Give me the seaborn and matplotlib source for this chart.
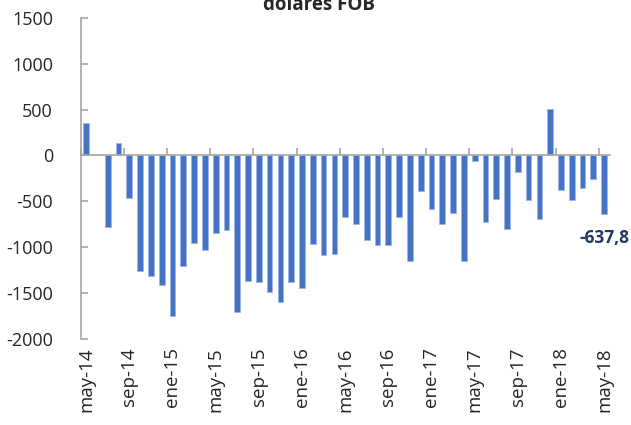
#!/usr/bin/env python
"""
Saldo de la balanza comercial mensual, millones de dolares FOB.
"""
import matplotlib

matplotlib.use("Agg")
import matplotlib.pyplot as plt
import pandas as pd
import seaborn as sns
from matplotlib.ticker import FixedLocator

months_es = ["ene", "feb", "mar", "abr", "may", "jun",
             "jul", "ago", "sep", "oct", "nov", "dic"]

# may-14 .. may-18
months = [f"{months_es[(4 + i) % 12]}-{14 + (4 + i) // 12}" for i in range(49)]

saldo = [
    350, 0, -780, 135, -460, -1257, -1312, -1417, -1745, -1203, -950, -1030,
    -848, -812, -1707, -1370, -1382, -1484, -1598, -1377, -1439, -967, -1080, -1069,
    -674, -743, -924, -971, -975, -674, -1152, -384, -578, -752, -630, -1148,
    -58, -724, -471, -800, -177, -482, -692, 511, -376, -482, -355, -253,
    -637.8,
]
last_label = "-637,8"

sns.set_theme(style="white")
plt.rcParams["font.family"] = ["Open Sans", "DejaVu Sans"]
plt.rcParams["axes.unicode_minus"] = False

data = pd.DataFrame({"mes": months, "saldo": saldo})

fig = plt.figure(figsize=(6.31, 4.25), dpi=100)
ax = fig.add_axes([0.128, 0.2024, 0.838, 0.7556])

sns.barplot(
    data=data,
    x="mes",
    y="saldo",
    color="#4472C4",
    saturation=1,
    width=0.53,
    edgecolor="#9db5e3",
    linewidth=0.5,
    ax=ax,
)

ax.set_xlim(-0.5, len(months) - 0.5)
ax.set_ylim(-2000, 1500)
ax.set_yticks(range(-2000, 1501, 500))
ax.set_xlabel("")
ax.set_ylabel("")

grey = "#a6a6a6"
for side in ["top", "right"]:
    ax.spines[side].set_visible(False)
ax.spines["left"].set_color(grey)
ax.spines["left"].set_linewidth(1.2)
ax.spines["bottom"].set_position(("data", 0))
ax.spines["bottom"].set_color(grey)
ax.spines["bottom"].set_linewidth(1.2)

# tick marks on the zero line, between categories every 4 months
ax.set_xticks([])
ax.xaxis.set_minor_locator(FixedLocator([i - 0.5 for i in range(0, len(months), 4)]))
ax.tick_params(axis="x", which="minor", direction="in", length=5, width=1.2,
               color=grey, bottom=True)
ax.tick_params(axis="y", direction="in", length=5, width=1.2, color=grey,
               left=True, labelsize=13, pad=20)

# month labels at the bottom of the plot area
sec = ax.secondary_xaxis("bottom")
sec.spines["bottom"].set_visible(False)
pos = list(range(0, len(months), 4))
sec.set_xticks(pos)
sec.set_xticklabels([months[i] for i in pos], rotation=90)
sec.tick_params(length=0, labelsize=13.5, pad=6)

ax.annotate(
    last_label,
    xy=(len(months) - 1, saldo[-1]),
    xytext=(0, -17),
    textcoords="offset points",
    ha="center",
    va="center",
    fontsize=12.5,
    fontweight="bold",
    color="#1F3864",
)

fig.text(0.505, 0.976, "dólares FOB", ha="center", va="baseline",
         fontsize=13.5, fontweight="bold")

fig.savefig("out.png", dpi=100)
